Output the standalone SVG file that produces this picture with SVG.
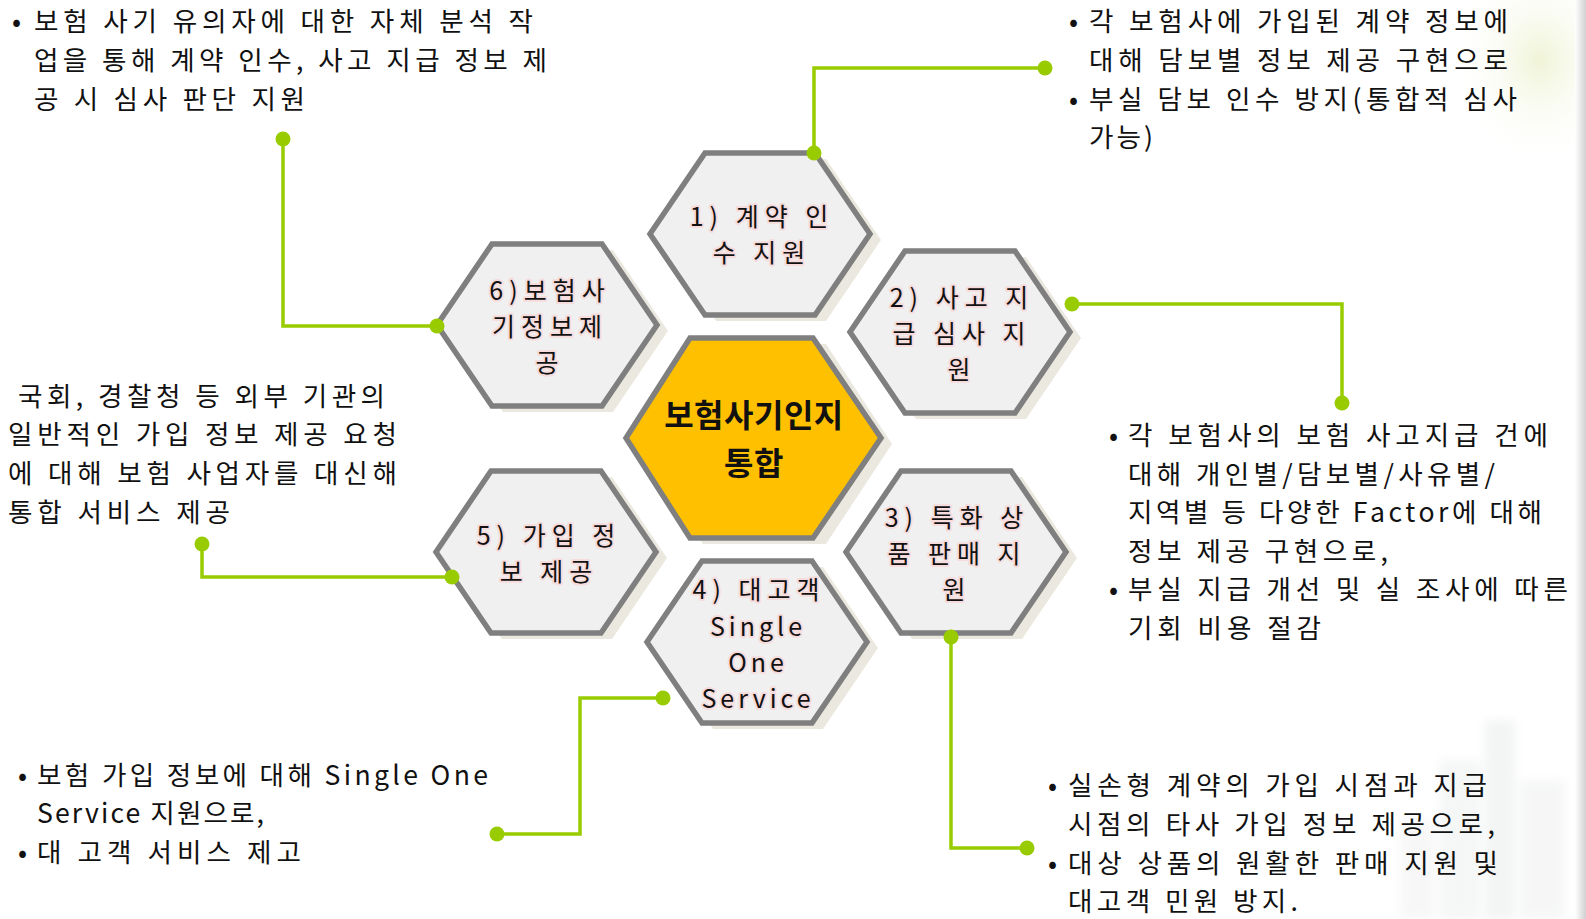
<svg xmlns="http://www.w3.org/2000/svg" xmlns:xlink="http://www.w3.org/1999/xlink" width="1586" height="919" viewBox="0 0 1586 919">
<defs>
<style>
.body{font-family:"Noto Sans CJK KR","Noto Sans",sans-serif;font-size:26.6px;fill:#111;}
.hx{font-family:"Noto Sans CJK KR","Noto Sans",sans-serif;font-size:25px;fill:#111;text-anchor:middle;letter-spacing:6px;stroke:#f6dcdc;stroke-width:4px;paint-order:stroke;stroke-linejoin:round;}
.lt{letter-spacing:4px;}
.hxc{font-family:"Noto Sans CJK KR","Noto Sans",sans-serif;font-size:32px;font-weight:bold;fill:#111;text-anchor:middle;letter-spacing:0.5px;}
.hex{fill:#f0f0f0;stroke:#7f7f7f;stroke-width:5.5;stroke-linejoin:miter;}
.shd{fill:#ebe9df;}
.con{fill:none;stroke:#99cc00;stroke-width:3.5;}
.dot{fill:#99cc00;}
</style>
<path id="h" d="M-55,-81 L55,-81 L110,0 L55,81 L-55,81 L-110,0 Z"/>
<linearGradient id="edge" x1="0" y1="0" x2="1" y2="0">
<stop offset="0" stop-color="#ffffff"/>
<stop offset="1" stop-color="#d0d0d0"/>
</linearGradient>
<radialGradient id="glow" cx="0.5" cy="0.5" r="0.5">
<stop offset="0" stop-color="#eef2d2" stop-opacity="0.9"/>
<stop offset="1" stop-color="#ffffff" stop-opacity="0"/>
</radialGradient>
<filter id="soft" x="-20%" y="-20%" width="140%" height="140%">
<feGaussianBlur stdDeviation="5"/>
</filter>
</defs>
<rect x="0" y="0" width="1586" height="919" fill="#ffffff"/>
<g id="background">
<ellipse cx="1540" cy="60" rx="90" ry="110" fill="url(#glow)"/>
<g filter="url(#soft)" opacity="0.3">
<rect x="1440" y="760" width="40" height="159" fill="#dfe2e2"/>
<rect x="1485" y="720" width="30" height="199" fill="#d8dbdb"/>
<rect x="1520" y="780" width="45" height="139" fill="#e2e4e4"/>
<rect x="1400" y="820" width="35" height="99" fill="#e6e7e7"/>
</g>
<rect x="1575" y="0" width="11" height="919" fill="url(#edge)"/>
</g>

<g id="hex1">
<use href="#h" class="shd" x="771" y="240"/>
<use href="#h" class="hex" x="760" y="234"/>
<text class="hx"><tspan x="762" y="225.6">1) 계약 인</tspan><tspan x="762" y="262">수 지원</tspan></text>
</g>
<g id="hex6">
<use href="#h" class="shd" x="558" y="331"/>
<use href="#h" class="hex" x="547" y="325"/>
<text class="hx"><tspan x="550" y="299.8">6)보험사</tspan><tspan x="550" y="336.1">기정보제</tspan><tspan x="550" y="372.4">공</tspan></text>
</g>
<g id="hex2">
<use href="#h" class="shd" x="971" y="338"/>
<use href="#h" class="hex" x="960" y="332"/>
<text class="hx"><tspan x="962" y="306.6">2) 사고 지</tspan><tspan x="962" y="342.9">급 심사 지</tspan><tspan x="962" y="379.2">원</tspan></text>
</g>
<g id="hex5">
<use href="#h" class="shd" x="557" y="558"/>
<use href="#h" class="hex" x="546" y="552"/>
<text class="hx"><tspan x="549" y="544.8">5) 가입 정</tspan><tspan x="549" y="581.1">보 제공</tspan></text>
</g>
<g id="hex3">
<use href="#h" class="shd" x="967" y="558"/>
<use href="#h" class="hex" x="956" y="552"/>
<text class="hx"><tspan x="957" y="526.8">3) 특화 상</tspan><tspan x="957" y="563.1">품 판매 지</tspan><tspan x="957" y="599.4">원</tspan></text>
</g>
<g id="hex4">
<use href="#h" class="shd" x="768" y="648"/>
<use href="#h" class="hex" x="757" y="642"/>
<text class="hx"><tspan x="759" y="599.3">4) 대고객</tspan><tspan class="lt" x="758" y="635.6">Single</tspan><tspan class="lt" x="758" y="671.9">One</tspan><tspan class="lt" x="758" y="708.2">Service</tspan></text>
</g>
<g id="center">
<path class="shd" d="M703,344 L826,344 L892,444 L826,544 L703,544 L639,444 Z"/>
<path d="M690,338 L813,338 L881,438 L813,538 L690,538 L626,438 Z" fill="#ffc000" stroke="#7f7f7f" stroke-width="5.5"/>
<text class="hxc"><tspan x="754" y="427">보험사기인지</tspan><tspan x="754" y="475">통합</tspan></text>
</g>

<g id="connectors">
<polyline class="con" points="814,153 814,68 1045,68"/>
<circle class="dot" cx="814" cy="153" r="7.5"/>
<circle class="dot" cx="1045" cy="68" r="7.5"/>
<polyline class="con" points="1072,304 1342,304 1342,403"/>
<circle class="dot" cx="1072" cy="304" r="7.5"/>
<circle class="dot" cx="1342" cy="403" r="7.5"/>
<polyline class="con" points="951,637 951,848 1027,848"/>
<circle class="dot" cx="951" cy="637" r="7.5"/>
<circle class="dot" cx="1027" cy="848" r="7.5"/>
<polyline class="con" points="663,698 580,698 580,834 497,834"/>
<circle class="dot" cx="663" cy="698" r="7.5"/>
<circle class="dot" cx="497" cy="834" r="7.5"/>
<polyline class="con" points="452,577 202,577 202,544"/>
<circle class="dot" cx="452" cy="577" r="7.5"/>
<circle class="dot" cx="202" cy="544" r="7.5"/>
<polyline class="con" points="437,326 283,326 283,139"/>
<circle class="dot" cx="437" cy="326" r="7.5"/>
<circle class="dot" cx="283" cy="139" r="7.5"/>
</g>

<g id="note-top-left">
<text class="body" x="12" y="31">•</text>
<text class="body" x="34" y="31" textLength="499" lengthAdjust="spacing">보험 사기 유의자에 대한 자체 분석 작</text>
<text class="body" x="34" y="69.8" textLength="513" lengthAdjust="spacing">업을 통해 계약 인수, 사고 지급 정보 제</text>
<text class="body" x="34" y="108.6" textLength="271" lengthAdjust="spacing">공 시 심사 판단 지원</text>
</g>
<g id="note-top-right">
<text class="body" x="1069" y="31">•</text>
<text class="body" x="1089" y="31" textLength="419" lengthAdjust="spacing">각 보험사에 가입된 계약 정보에</text>
<text class="body" x="1089" y="69.8" textLength="419" lengthAdjust="spacing">대해 담보별 정보 제공 구현으로</text>
<text class="body" x="1069" y="108.6">•</text>
<text class="body" x="1089" y="108.6" textLength="428" lengthAdjust="spacing">부실 담보 인수 방지(통합적 심사</text>
<text class="body" x="1089" y="147.4" textLength="64" lengthAdjust="spacing">가능)</text>
</g>
<g id="note-mid-left">
<text class="body" x="18" y="405.5" textLength="367" lengthAdjust="spacing">국회, 경찰청 등 외부 기관의</text>
<text class="body" x="8" y="444.3" textLength="389" lengthAdjust="spacing">일반적인 가입 정보 제공 요청</text>
<text class="body" x="8" y="483.1" textLength="389" lengthAdjust="spacing">에 대해 보험 사업자를 대신해</text>
<text class="body" x="8" y="521.9" textLength="222" lengthAdjust="spacing">통합 서비스 제공</text>
</g>
<g id="note-mid-right">
<text class="body" x="1109" y="445">•</text>
<text class="body" x="1128" y="445" textLength="420" lengthAdjust="spacing">각 보험사의 보험 사고지급 건에</text>
<text class="body" x="1128" y="483.5" textLength="367" lengthAdjust="spacing">대해 개인별/담보별/사유별/</text>
<text class="body" x="1128" y="522" textLength="414" lengthAdjust="spacing">지역별 등 다양한 Factor에 대해</text>
<text class="body" x="1128" y="560.5" textLength="260" lengthAdjust="spacing">정보 제공 구현으로,</text>
<text class="body" x="1109" y="599">•</text>
<text class="body" x="1128" y="599" textLength="440" lengthAdjust="spacing">부실 지급 개선 및 실 조사에 따른</text>
<text class="body" x="1128" y="637.5" textLength="193" lengthAdjust="spacing">기회 비용 절감</text>
</g>
<g id="note-bottom-left">
<text class="body" x="18" y="784.6">•</text>
<text class="body" x="37" y="784.6" textLength="451" lengthAdjust="spacing">보험 가입 정보에 대해 Single One</text>
<text class="body" x="37" y="823.4" textLength="227" lengthAdjust="spacing">Service 지원으로,</text>
<text class="body" x="18" y="862.2">•</text>
<text class="body" x="37" y="862.2" textLength="264" lengthAdjust="spacing">대 고객 서비스 제고</text>
</g>
<g id="note-bottom-right">
<text class="body" x="1048" y="795">•</text>
<text class="body" x="1068" y="795" textLength="419" lengthAdjust="spacing">실손형 계약의 가입 시점과 지급</text>
<text class="body" x="1068" y="833.8" textLength="427" lengthAdjust="spacing">시점의 타사 가입 정보 제공으로,</text>
<text class="body" x="1048" y="872.6">•</text>
<text class="body" x="1068" y="872.6" textLength="430" lengthAdjust="spacing">대상 상품의 원활한 판매 지원 및</text>
<text class="body" x="1068" y="911.3" textLength="230" lengthAdjust="spacing">대고객 민원 방지.</text>
</g>
</svg>
